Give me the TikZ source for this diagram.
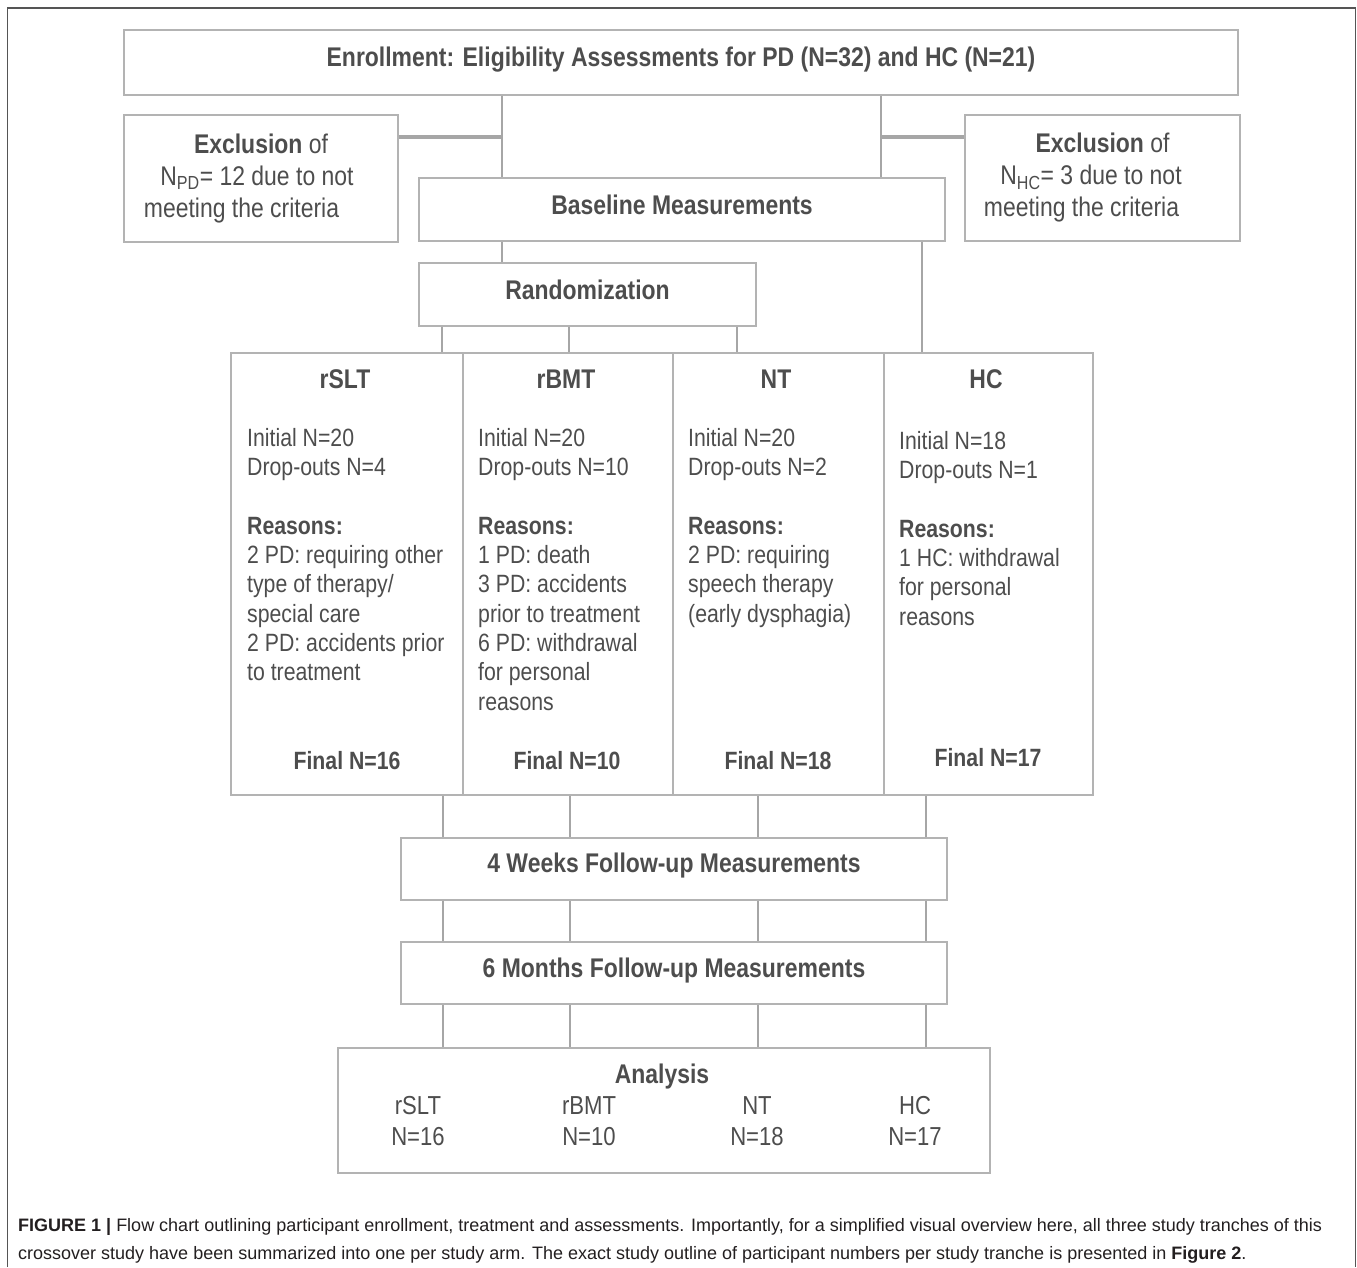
\documentclass[tikz,border=0pt]{standalone}
\usepackage{fontspec}
\setmainfont{Liberation Sans}
\newfontfamily\narrow[FakeStretch=0.85]{Liberation Sans}
\definecolor{txt}{HTML}{4D4D4D}
\definecolor{boxc}{HTML}{B3B3B3}
\definecolor{linec}{HTML}{A6A6A6}
\definecolor{framec}{HTML}{555555}
\definecolor{capc}{HTML}{231F20}
\newcommand{\padr}[1]{\rule{#1}{0pt}}
\begin{document}
\begin{tikzpicture}[x=1pt,y=-1pt,
  box/.style={draw=boxc, line width=1.8pt, inner sep=0, anchor=center},
  conn/.style={draw=linec, line width=2.2pt},
  stub/.style={draw=linec, line width=3.2pt},
  ttl/.style={font=\narrow\bfseries\fontsize{27}{30}\selectfont, text=txt},
  fin/.style={font=\narrow\bfseries\fontsize{25}{29}\selectfont, text=txt, anchor=base, inner sep=0},
  excl/.style={font=\narrow\fontsize{27}{32}\selectfont, text=txt, align=center},
  body/.style={font=\narrow\fontsize{25}{29.3}\selectfont, text=txt, align=left, anchor=north west, inner sep=0},
  anl/.style={font=\narrow\fontsize{26}{31}\selectfont, text=txt, align=center, anchor=north, inner sep=0},
  captxt/.style={font=\fontsize{18}{22}\selectfont, text=capc, anchor=base west, inner sep=0},
 ]
\useasboundingbox (0,0) rectangle (1357,1267);
% outer frame
\draw[framec, line width=1.6pt] (7.5,1267) -- (7.5,8) -- (1355.5,8) -- (1355.5,1267);

% boxes
\node[box, minimum width=1114pt, minimum height=65pt] (enroll) at (681,62.5) {};
\node[ttl] (enrollT) at ([yshift=3pt]enroll.center)
  {Enrollment: Eligibility Assessments for PD (N=32) and HC (N=21)};
\node[box, excl, minimum width=274pt, minimum height=127pt] (exL) at (261,178.5)
  {\textbf{Exclusion} of\\N\textsubscript{PD}= 12 due to not\padr{8pt}\\meeting the criteria\padr{39pt}};
\node[box, excl, minimum width=275pt, minimum height=126pt] (exR) at (1102.5,178)
  {\textbf{Exclusion} of\\N\textsubscript{HC}= 3 due to not\padr{23pt}\\meeting the criteria\padr{42pt}};
\node[box, minimum width=526pt, minimum height=63pt] (base) at (682,209.5) {};
\node[ttl] (baseT) at ([yshift=5pt]base.center) {Baseline Measurements};
\node[box, minimum width=337pt, minimum height=63pt] (rand) at (587.5,294.5) {};
\node[ttl] (randT) at ([yshift=5pt]rand.center) {Randomization};

\node[box, minimum width=232pt, minimum height=442pt] (slt) at (347,574) {};
\node[box, minimum width=210pt, minimum height=442pt] (bmt) at (568,574) {};
\node[box, minimum width=211pt, minimum height=442pt] (nt) at (778.5,574) {};
\node[box, minimum width=209pt, minimum height=442pt] (hc) at (988.5,574) {};

\node[box, minimum width=546pt, minimum height=62pt] (fw) at (674,869) {};
\node[ttl] (fwT) at ([yshift=3pt]fw.center) {4 Weeks Follow-up Measurements};
\node[box, minimum width=546pt, minimum height=62pt] (sm) at (674,973) {};
\node[ttl] (smT) at ([yshift=2pt]sm.center) {6 Months Follow-up Measurements};
\node[box, minimum width=652pt, minimum height=125pt] (an) at (664,1110.5) {};

% arm texts
\node[ttl, anchor=base, inner sep=0] (sltT) at (345,388) {rSLT};
\node[ttl, anchor=base, inner sep=0] (bmtT) at (566,388) {rBMT};
\node[ttl, anchor=base, inner sep=0] (ntT) at (776,388) {NT};
\node[ttl, anchor=base, inner sep=0] (hcT) at (986,388) {HC};

\node[body] (sltB) at (247,428) {Initial N=20\\Drop-outs N=4\\[29.3pt]\textbf{Reasons:}\\2 PD: requiring other\\type of therapy/\\special care\\2 PD: accidents prior\\to treatment};
\node[body] (bmtB) at (478,428) {Initial N=20\\Drop-outs N=10\\[29.3pt]\textbf{Reasons:}\\1 PD: death\\3 PD: accidents\\prior to treatment\\6 PD: withdrawal\\for personal\\reasons};
\node[body] (ntB) at (688,428) {Initial N=20\\Drop-outs N=2\\[29.3pt]\textbf{Reasons:}\\2 PD: requiring\\speech therapy\\(early dysphagia)};
\node[body] (hcB) at (899,431) {Initial N=18\\Drop-outs N=1\\[29.3pt]\textbf{Reasons:}\\1 HC: withdrawal\\for personal\\reasons};

\node[fin] (sltF) at (347,769) {Final N=16};
\node[fin] (bmtF) at (567,769) {Final N=10};
\node[fin] (ntF) at (778,769) {Final N=18};
\node[fin] (hcF) at (988,766) {Final N=17};

% analysis texts
\node[ttl, anchor=base, inner sep=0] (anT) at (662,1083) {Analysis};
\node[anl] (an1) at (418,1096) {rSLT\\N=16};
\node[anl] (an2) at (589,1096) {rBMT\\N=10};
\node[anl] (an3) at (757,1096) {NT\\N=18};
\node[anl] (an4) at (915,1096) {HC\\N=17};

% caption
\node[captxt] (cap1) at (18,1231) {\textbf{FIGURE 1 |} Flow chart outlining participant enrollment, treatment and assessments. Importantly, for a simplified visual overview here, all three study tranches of this};
\node[captxt] (cap2) at (18,1259) {crossover study have been summarized into one per study arm. The exact study outline of participant numbers per study tranche is presented in \textbf{Figure 2}.};

% connector coordinates
\coordinate (xL) at (502,0);
\coordinate (xR) at (881,0);
\coordinate (ys) at (0,137);
\coordinate (cA) at (442,0);
\coordinate (cB) at (569,0);
\coordinate (cC) at (737,0);
\coordinate (cD) at (922,0);
\coordinate (dA) at (443,0);
\coordinate (dB) at (570,0);
\coordinate (dC) at (758,0);
\coordinate (dD) at (926,0);

\draw[conn] (enroll.south -| xL) -- (base.north -| xL);
\draw[conn] (enroll.south -| xR) -- (base.north -| xR);
\draw[stub] (exL.east |- ys) -- (xL |- ys);
\draw[stub] (exR.west |- ys) -- (xR |- ys);
\draw[conn] (base.south -| xL) -- (rand.north -| xL);
\draw[conn] (base.south -| cD) -- (hc.north -| cD);
\draw[conn] (rand.south -| cA) -- (slt.north -| cA);
\draw[conn] (rand.south -| cB) -- (bmt.north -| cB);
\draw[conn] (rand.south -| cC) -- (nt.north -| cC);

\draw[conn] (slt.south -| dA) -- (fw.north -| dA);
\draw[conn] (bmt.south -| dB) -- (fw.north -| dB);
\draw[conn] (nt.south -| dC) -- (fw.north -| dC);
\draw[conn] (hc.south -| dD) -- (fw.north -| dD);

\draw[conn] (fw.south -| dA) -- (sm.north -| dA);
\draw[conn] (fw.south -| dB) -- (sm.north -| dB);
\draw[conn] (fw.south -| dC) -- (sm.north -| dC);
\draw[conn] (fw.south -| dD) -- (sm.north -| dD);

\draw[conn] (sm.south -| dA) -- (an.north -| dA);
\draw[conn] (sm.south -| dB) -- (an.north -| dB);
\draw[conn] (sm.south -| dC) -- (an.north -| dC);
\draw[conn] (sm.south -| dD) -- (an.north -| dD);
\end{tikzpicture}
\end{document}
